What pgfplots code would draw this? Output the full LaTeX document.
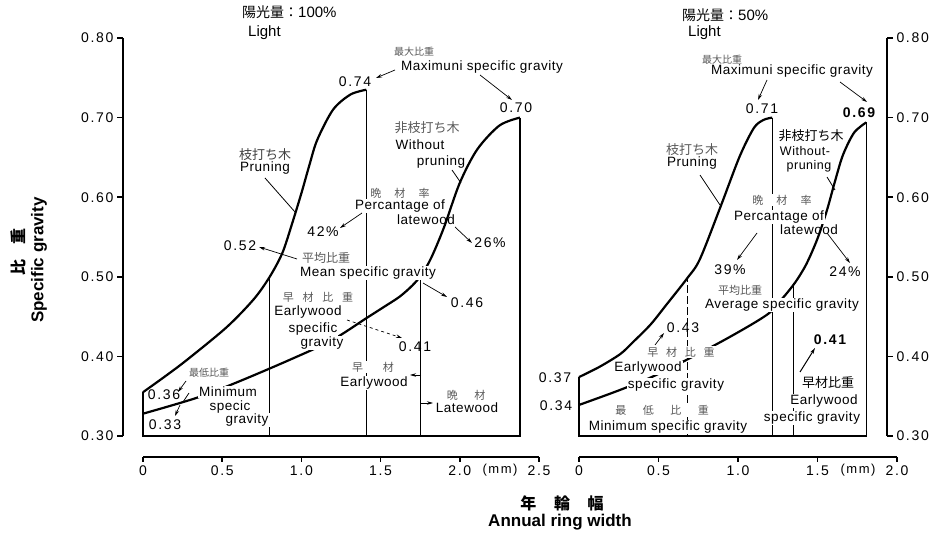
\documentclass[border=0pt]{standalone}
\usepackage{pgfplots}
\pgfplotsset{compat=1.18}
\usepackage{fontspec}
\usetikzlibrary{arrows.meta}
\setmainfont{Liberation Sans}
\newfontfamily\tf[LetterSpace=12]{Liberation Sans}
\newfontfamily\af[LetterSpace=4]{Liberation Sans}
\newfontfamily\jf{Noto Sans CJK JP}
\begin{document}
\begin{tikzpicture}[x=1pt,y=1pt,
  a/.style={font=\af\fontsize{13.5}{14}\selectfont, inner sep=1pt, fill=white},
  an/.style={font=\af\fontsize{13.5}{14}\selectfont, inner sep=1pt},
  n/.style={font=\tf\fontsize{14}{14}\selectfont, inner sep=1pt},
  j/.style={font=\jf\fontsize{10}{11}\selectfont, inner sep=1pt, fill=white, text=black!65},
  jb/.style={font=\jf\fontsize{13}{14}\selectfont, inner sep=1pt},
  ar/.style={-{Stealth[length=6pt,width=3.5pt]}, line width=0.7pt},
  ld/.style={line width=0.8pt}]
\path (0,0) rectangle (937,538);
\pgfplotsset{
  common/.style={scale only axis, clip=false, tick align=outside,
    axis line style={-, line width=1.8pt}, tick style={line width=1.5pt, black},
    ticklabel style={font=\tf\fontsize{14}{14}\selectfont}},
}
% left y axis
\begin{axis}[common, at={(123pt,102pt)}, anchor=south west, width=10pt, height=398pt,
  xmin=0, xmax=1, ymin=0.30, ymax=0.80, axis y line*=left, axis x line=none,
  ytick={0.3,0.4,0.5,0.6,0.7,0.8}, yticklabels={0.30,0.40,0.50,0.60,0.70,0.80},
  major tick length=6pt, axis line style={-, line width=2.4pt}]
\end{axis}
% left data axis
\begin{axis}[common, at={(143pt,81pt)}, anchor=south west, width=396pt, height=419pt,
  xmin=0, xmax=2.5, ymin=0.2736, ymax=0.80, axis x line*=bottom, axis y line=none,
  xtick={0,0.5,1,1.5,2,2.5}, xticklabels={0,0.5,1.0,1.5,2.0,2.5}, major tick length=5pt]
\addplot[line width=1.3pt] coordinates {(0,0.355)(0,0.30)(2.38,0.30)(2.38,0.70)};
\addplot[line width=1pt] coordinates {(0.80,0.30)(0.80,0.50)};
\addplot[line width=1pt] coordinates {(1.41,0.30)(1.41,0.735)};
\addplot[line width=1pt] coordinates {(1.755,0.30)(1.755,0.502)};
\addplot[line width=2.2pt, smooth, tension=0.5] coordinates {(0,0.355)(0.14,0.375)(0.28,0.396)(0.53,0.437)(0.70,0.472)(0.80,0.50)(0.88,0.53)(0.94,0.566)(1.00,0.605)(1.05,0.64)(1.10,0.672)(1.20,0.71)(1.31,0.729)(1.41,0.735)};
\addplot[line width=2.2pt, smooth, tension=0.5] coordinates {(0,0.328)(0.34,0.348)(0.60,0.368)(0.93,0.396)(1.19,0.42)(1.41,0.448)(1.52,0.462)(1.62,0.475)(1.70,0.489)(1.76,0.503)(1.82,0.524)(1.90,0.562)(2.00,0.618)(2.11,0.66)(2.25,0.69)(2.38,0.70)};
\end{axis}
% right data axis
\begin{axis}[common, at={(579pt,81pt)}, anchor=south west, width=318pt, height=419pt,
  xmin=0, xmax=2.0, ymin=0.2736, ymax=0.80, axis x line*=bottom, axis y line=none,
  xtick={0,0.5,1,1.5,2}, xticklabels={0,0.5,1.0,1.5,2.0}, major tick length=5pt]
\addplot[line width=1.3pt] coordinates {(0,0.374)(0,0.30)(1.807,0.30)(1.807,0.694)};
\addplot[line width=0.8pt, dash pattern=on 8pt off 3pt] coordinates {(0.68,0.30)(0.68,0.498)};
\addplot[line width=1pt] coordinates {(1.215,0.30)(1.215,0.70)};
\addplot[line width=1pt] coordinates {(1.348,0.30)(1.348,0.490)};
\addplot[line width=2.2pt, smooth, tension=0.5] coordinates {(0,0.374)(0.13,0.387)(0.26,0.403)(0.34,0.418)(0.45,0.44)(0.55,0.465)(0.68,0.498)(0.76,0.522)(0.89,0.588)(1.01,0.651)(1.10,0.687)(1.16,0.697)(1.215,0.70)};
\addplot[line width=2.2pt, smooth, tension=0.5] coordinates {(0,0.339)(0.26,0.358)(0.50,0.378)(0.89,0.418)(1.18,0.452)(1.28,0.473)(1.36,0.493)(1.43,0.516)(1.50,0.548)(1.56,0.584)(1.61,0.620)(1.66,0.653)(1.73,0.681)(1.807,0.694)};
\end{axis}
% right y axis
\begin{axis}[common, at={(579pt,102pt)}, anchor=south west, width=308pt, height=398pt,
  xmin=0, xmax=1, ymin=0.30, ymax=0.80, axis y line*=right, axis x line=none,
  ytick={0.3,0.4,0.5,0.6,0.7,0.8}, yticklabels={0.30,0.40,0.50,0.60,0.70,0.80},
  major tick length=6pt]
\end{axis}

% axis titles
\node[font=\jf\bfseries\fontsize{16}{16}\selectfont, rotate=90] at (18,286) {比\hspace{0.9em}重};
\node[font=\bfseries\fontsize{17}{17}\selectfont, rotate=90] at (39,278) {Specific gravity};
\node[font=\jf\bfseries\fontsize{16}{16}\selectfont] at (562,35) {年\hspace{1.1em}輪\hspace{1.1em}幅};
\node[font=\bfseries\fontsize{17}{17}\selectfont] at (560,16) {Annual ring width};
\node[n, font=\tf\fontsize{13}{13}\selectfont] at (500,68) {(mm)};
\node[n, font=\tf\fontsize{13}{13}\selectfont] at (858,68) {(mm)};

% panel titles
\node[anchor=west, inner sep=0pt] at (242,526) {{\jf\fontsize{14}{14}\selectfont 陽光量：}{\fontsize{15}{15}\selectfont 100\%}};
\node[anchor=west, inner sep=0pt, font=\fontsize{15}{15}\selectfont] at (248,505) {Light};
\node[anchor=west, inner sep=0pt] at (682,523) {{\jf\fontsize{14}{14}\selectfont 陽光量：}{\fontsize{15}{15}\selectfont 50\%}};
\node[anchor=west, inner sep=0pt, font=\fontsize{15}{15}\selectfont] at (688,505) {Light};

% ---------- left panel annotations ----------
\node[j] at (414,486) {最大比重};
\node[a] at (482,471) {Maximuni specific gravity};
\node[n] at (355,456) {0.74};
\draw[ar] (395,468) -- (376,460);
\draw[ar] (480,463) -- (512,438);
\node[n] at (516,430) {0.70};
\node[jb, text=black!65] at (427,410) {非枝打ち木};
\node[an] at (420,393) {Without};
\node[an] at (441,376) {pruning};
\draw[ld] (452,368) -- (461,355);
\node[j, font=\jf\fontsize{11}{11}\selectfont] at (400,345) {晩\hspace{1.2em}材\hspace{1.2em}率};
\node[a] at (400,332) {Percantage of};
\node[an] at (426,318) {latewood};
\draw[ar] (362,325) -- (340,310);
\node[n] at (323,306) {42\%};
\draw[ar] (455,311) -- (472,295);
\node[n] at (490,295) {26\%};
\node[jb, text=black!75] at (265,383) {枝打ち木};
\node[an] at (265,370) {Pruning};
\draw[ld] (265,360) -- (295,326);
\node[n] at (240,292) {0.52};
\draw[ar] (297,279) -- (259,291);
\node[j, font=\jf\fontsize{12}{12}\selectfont] at (326,280) {平均比重};
\node[a] at (368,265) {Mean specific gravity};
\draw[ar] (423,255) -- (447,241);
\node[n] at (467,235) {0.46};
\node[j, font=\jf\fontsize{11}{11}\selectfont] at (318,241) {早\hspace{0.8em}材\hspace{0.8em}比\hspace{0.8em}重};
\node[a] at (308,226) {Earlywood};
\node[a] at (313,209) {specific};
\node[a] at (322,195) {gravity};
\draw[ar, dashed] (347,218) -- (402,200);
\node[n] at (415,191) {0.41};
\node[j, font=\jf\fontsize{11}{11}\selectfont] at (373,171) {早\hspace{1.8em}材};
\node[a] at (374,155) {Earlywood};
\draw[ar] (421,163) -- (410,163);
\node[j, font=\jf\fontsize{11}{11}\selectfont] at (466,143) {晩\hspace{1.5em}材};
\node[a] at (467,130) {Latewood};
\draw[ar] (421,135) -- (433,135);
\node[j] at (209,165) {最低比重};
\node[a] at (228,146) {Minimum};
\node[a] at (230,131) {specic};
\node[a] at (247,118) {gravity};
\node[n] at (164,143) {0.36};
\node[n] at (165,113) {0.33};
\draw[ar] (186,157) -- (178,146);
\draw[ld] (183,136) -- (189,145);
\draw[ar] (180,133) -- (175,122);

% ---------- right panel annotations ----------
\node[j] at (722,478) {最大比重};
\node[a] at (792,467) {Maximuni specific gravity};
\draw[ar] (767,458) -- (758,438);
\node[n] at (762,429) {0.71};
\draw[ar] (840,456) -- (867,436);
\node[n, font=\tf\bfseries\fontsize{14}{14}\selectfont] at (859,425) {0.69};
\node[jb] at (811,402) {非枝打ち木};
\node[an, font=\af\fontsize{12.5}{13}\selectfont, inner sep=0pt] at (805,387) {Without-};
\node[an, font=\af\fontsize{12.5}{13}\selectfont, inner sep=0pt] at (809,372) {pruning};
\draw[ld] (827,361) -- (835,348);
\node[jb, text=black!65] at (692,388) {枝打ち木};
\node[an] at (692,375) {Pruning};
\draw[ld] (700,363) -- (720,333);
\node[j, font=\jf\fontsize{11}{11}\selectfont] at (782,338) {晩\hspace{1.2em}材\hspace{1.2em}率};
\node[a] at (779,321) {Percantage of};
\node[an] at (809,308) {latewood};
\draw[ar] (757,305) -- (737,278);
\node[n] at (730,268) {39\%};
\draw[ar] (827,305) -- (850,275);
\node[n] at (845,266) {24\%};
\node[j, font=\jf\fontsize{11}{11}\selectfont] at (740,248) {平均比重};
\node[a] at (782,233) {Average specific gravity};
\node[n] at (683,210) {0.43};
\draw[ar] (655,193) -- (664,205);
\node[j, font=\jf\fontsize{11}{11}\selectfont] at (681,186) {早\hspace{0.7em}材\hspace{0.7em}比\hspace{0.7em}重};
\node[a] at (648,170) {Earlywood};
\node[a] at (676,153) {specific gravity};
\node[j, font=\jf\fontsize{11}{11}\selectfont] at (662,128) {最\hspace{1.5em}低\hspace{1.5em}比\hspace{1.5em}重};
\node[a] at (668,111) {Minimum specific gravity};
\node[n, font=\tf\bfseries\fontsize{14}{14}\selectfont] at (830,198) {0.41};
\draw[ar, line width=1pt] (800,166) -- (815,190);
\node[jb, fill=white] at (828,155) {早材比重};
\node[a] at (824,137) {Earlywood};
\node[a] at (812,120) {specific gravity};
\node[n] at (555,160) {0.37};
\node[n] at (556,132) {0.34};
\end{tikzpicture}
\end{document}
